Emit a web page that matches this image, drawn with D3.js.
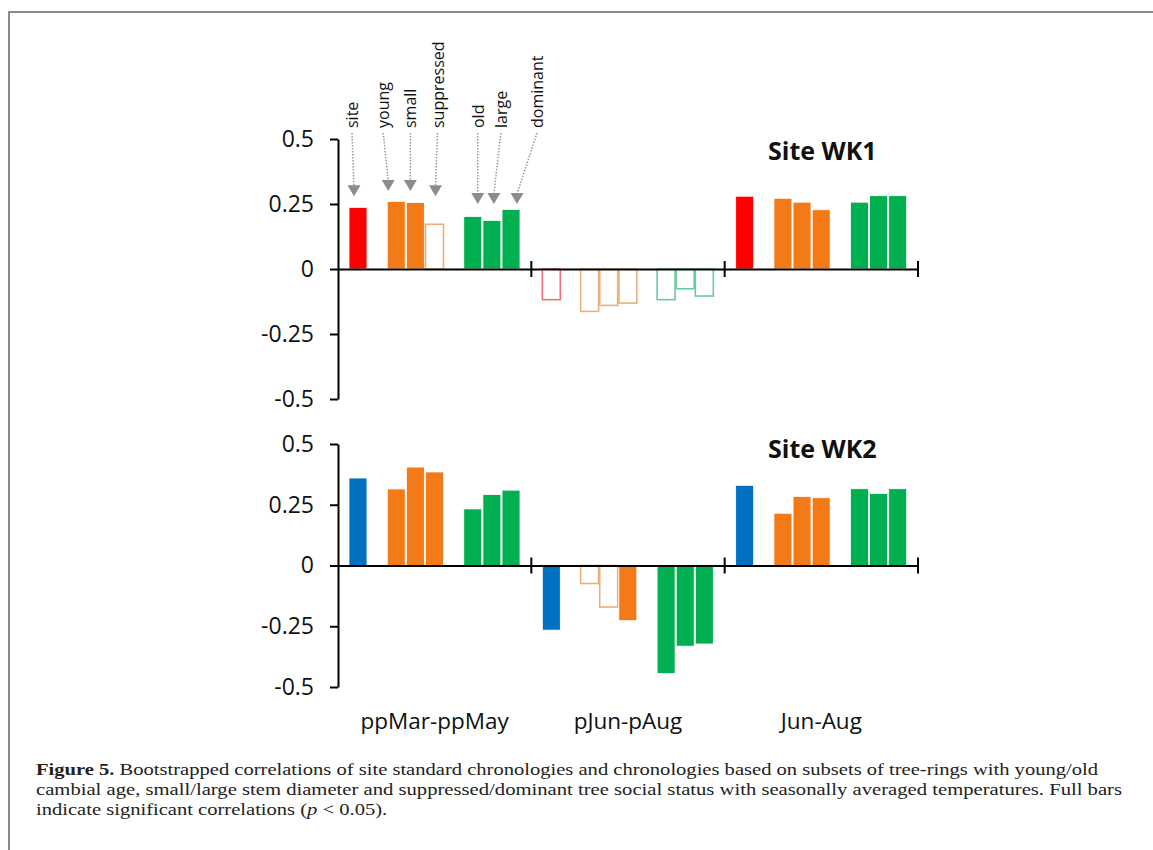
<!DOCTYPE html>
<html>
<head>
<meta charset="utf-8">
<script src="https://cdn.jsdelivr.net/npm/d3@7"></script>
<style>
body { margin: 0; background: #fff; }
svg { display: block; }
</style>
</head>
<body>
<div id="chart"></div>
<script>
var width = 1153;
var height = 850;

// data
var periods = ["ppMar-ppMay", "pJun-pAug", "Jun-Aug"];
var subsets = ["site", "young", "small", "suppressed", "old", "large", "dominant"];
var groupOf = ["site", "age", "age", "age", "size", "size", "size"];
var yTicks = [0.5, 0.25, 0, -0.25, -0.5];
var yTickLabels = ["0.5", "0.25", "0", "-0.25", "-0.5"];

var wk1Values = [
    [0.237, 0.260, 0.256, 0.172, 0.202, 0.187, 0.229],
    [-0.118, -0.163, -0.140, -0.131, -0.118, -0.076, -0.104],
    [0.280, 0.272, 0.257, 0.228, 0.257, 0.282, 0.282]
];
var wk1Signif = [
    [1, 1, 1, 0, 1, 1, 1],
    [0, 0, 0, 0, 0, 0, 0],
    [1, 1, 1, 1, 1, 1, 1]
];
var wk2Values = [
    [0.360, 0.315, 0.405, 0.385, 0.233, 0.292, 0.310],
    [-0.266, -0.074, -0.171, -0.227, -0.445, -0.332, -0.323],
    [0.330, 0.215, 0.284, 0.279, 0.316, 0.296, 0.316]
];
var wk2Signif = [
    [1, 1, 1, 1, 1, 1, 1],
    [1, 0, 0, 1, 1, 1, 1],
    [1, 1, 1, 1, 1, 1, 1]
];

var fillColors = { site1: "#ff0000", site2: "#0070c0", age: "#f47a18", size: "#00b050" };
var openColors = { site1: "#f0707a", site2: "#5a9ad0", age: "#ebb07a", size: "#6ccaa0" };

var svg = d3.select("#chart").append("svg")
    .attr("width", width)
    .attr("height", height);

// frame
svg.append("path")
    .attr("d", "M9," + height + "V12H" + width)
    .attr("fill", "none")
    .attr("stroke", "#8a8a8a")
    .attr("stroke-width", 2);

var x0 = d3.scaleBand().domain(periods).range([338, 918]);
// slots inside each period: site, gap, age subsets, gap, size subsets
var x1 = d3.scaleBand()
    .domain(["site", "g1", "young", "small", "suppressed", "g2", "old", "large", "dominant"])
    .range([11, 182])
    .paddingInner(0.06);

var font = "'Open Sans', sans-serif";

function drawPanel(values, signif, siteKey, top, bottom, title, titleY) {
    var y = d3.scaleLinear().domain([-0.5, 0.5]).range([bottom, top]);
    var g = svg.append("g");

    var rows = [];
    values.forEach(function(vals, p) {
        vals.forEach(function(v, s) {
            rows.push({ period: periods[p], subset: subsets[s], value: v, full: signif[p][s],
                        key: groupOf[s] === "site" ? siteKey : groupOf[s] });
        });
    });

    g.selectAll("rect.bar")
        .data(rows)
        .enter()
        .append("rect")
        .attr("class", "bar")
        .attr("x", function(d) { return x0(d.period) + x1(d.subset); })
        .attr("width", x1.bandwidth())
        .attr("y", function(d) { return y(Math.max(0, d.value)); })
        .attr("height", function(d) { return Math.abs(y(d.value) - y(0)); })
        .attr("fill", function(d) { return d.full ? fillColors[d.key] : "#fff"; })
        .attr("stroke", function(d) { return d.full ? "#fff" : openColors[d.key]; })
        .attr("stroke-width", function(d) { return d.full ? 0.8 : 1.6; });

    var yAxis = d3.axisLeft(y)
        .tickValues(yTicks)
        .tickFormat(function(d, i) { return yTickLabels[i]; })
        .tickSize(8)
        .tickSizeOuter(0)
        .tickPadding(16);
    var ya = g.append("g").attr("transform", "translate(338,0)").call(yAxis);
    ya.selectAll("path, line").attr("stroke", "#000").attr("stroke-width", 2);
    ya.selectAll("text").attr("font-family", font).attr("font-size", 23).attr("fill", "#111");

    // zero line with period separators
    var xAxis = d3.axisBottom(x0).tickValues([]).tickSizeOuter(0);
    var xa = g.append("g").attr("transform", "translate(0," + y(0) + ")").call(xAxis);
    xa.select("path").attr("stroke", "#000").attr("stroke-width", 2);
    xa.selectAll("line.sep")
        .data(periods)
        .enter()
        .append("line")
        .attr("class", "sep")
        .attr("x1", function(d) { return x0(d) + x0.bandwidth(); })
        .attr("x2", function(d) { return x0(d) + x0.bandwidth(); })
        .attr("y1", -8).attr("y2", 8)
        .attr("stroke", "#000").attr("stroke-width", 2);

    g.append("text")
        .attr("x", 768).attr("y", titleY)
        .attr("font-family", font).attr("font-size", 25).attr("font-weight", "bold")
        .attr("fill", "#111")
        .text(title);

    return y;
}

var yTop = drawPanel(wk1Values, wk1Signif, "site1", 139, 399, "Site WK1", 160);
var yBot = drawPanel(wk2Values, wk2Signif, "site2", 444, 687, "Site WK2", 458);

// period labels
svg.selectAll("text.period")
    .data(periods)
    .enter()
    .append("text")
    .attr("class", "period")
    .attr("x", function(d) { return x0(d) + x0.bandwidth() / 2; })
    .attr("y", 729)
    .attr("text-anchor", "middle")
    .attr("font-family", font).attr("font-size", 22.5).attr("fill", "#111")
    .text(function(d) { return d; });

// subset labels with dotted arrows over the first WK1 group
var arrowTip = [0.28, 0.30, 0.30, 0.28, 0.25, 0.25, 0.25];
var arrowDx = [-4, -8, -5, 1, 5, 2, 6];
var labelDx = [-2, -5, 0, 2, 0, 7, 20];
var ann = svg.append("g");
subsets.forEach(function(s, i) {
    var hx = x0(periods[0]) + x1(s) + x1.bandwidth() / 2 + arrowDx[i];
    var hy = yTop(arrowTip[i]);
    var lx = hx + labelDx[i];
    ann.append("line")
        .attr("x1", lx).attr("y1", 133)
        .attr("x2", hx).attr("y2", hy - 10)
        .attr("stroke", "#9a9a9a").attr("stroke-width", 1.5)
        .attr("stroke-dasharray", "1.5,1.5");
    ann.append("path")
        .attr("d", "M" + (hx - 6.5) + "," + (hy - 11) + "L" + (hx + 6.5) + "," + (hy - 11) + "L" + hx + "," + hy + "Z")
        .attr("fill", "#8c8c8c");
    ann.append("text")
        .attr("transform", "translate(" + lx + ",128) rotate(-90)")
        .attr("dominant-baseline", "central")
        .attr("font-family", font).attr("font-size", 16).attr("fill", "#111")
        .text(s);
});

// caption
var captionLines = [
    "Bootstrapped correlations of site standard chronologies and chronologies based on subsets of tree-rings with young/old",
    "cambial age, small/large stem diameter and suppressed/dominant tree social status with seasonally averaged temperatures. Full bars",
    "indicate significant correlations ("
];
var serif = "'Liberation Serif', 'Times New Roman', serif";
var cap = svg.append("g").attr("font-family", serif).attr("font-size", 17.5).attr("fill", "#222");

var l1 = cap.append("text").attr("x", 36).attr("y", 775);
l1.append("tspan").attr("font-weight", "bold").text("Figure 5. ");
l1.append("tspan").text(captionLines[0]);
var n1 = l1.node().getComputedTextLength();
l1.attr("textLength", 1098 - 36).attr("lengthAdjust", "spacingAndGlyphs");
var squeeze = (1098 - 36) / n1;

var l2 = cap.append("text").attr("x", 36).attr("y", 795).text(captionLines[1]);
l2.attr("textLength", 1122 - 36).attr("lengthAdjust", "spacingAndGlyphs");

var l3 = cap.append("text").attr("x", 36).attr("y", 815);
l3.append("tspan").text(captionLines[2]);
l3.append("tspan").attr("font-style", "italic").text("p");
l3.append("tspan").text(" < 0.05).");
var n3 = l3.node().getComputedTextLength();
l3.attr("textLength", n3 * squeeze).attr("lengthAdjust", "spacingAndGlyphs");
</script>
</body>
</html>
